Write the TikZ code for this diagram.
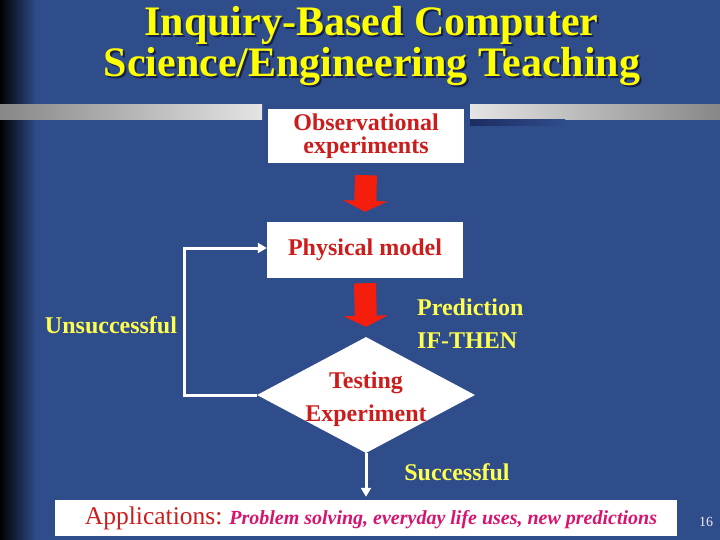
\documentclass[tikz,border=0pt]{standalone}
\usepackage{fontspec}
\setmainfont{Liberation Serif}
\usetikzlibrary{shapes.geometric,arrows.meta}
\definecolor{bg}{RGB}{47,76,139}
\definecolor{navy}{RGB}{20,32,80}
\definecolor{barD}{RGB}{135,135,135}
\definecolor{barL}{RGB}{228,228,228}
\definecolor{boxred}{RGB}{204,28,28}
\definecolor{arrred}{RGB}{245,30,12}
\definecolor{labyel}{RGB}{255,255,80}
\definecolor{ttlyel}{RGB}{255,255,0}
\definecolor{mag}{RGB}{214,20,110}
\tikzset{bx/.style={fill=white,minimum width=196pt,minimum height=54pt,inner sep=0pt,align=center,
  text=boxred,font=\fontsize{24}{23}\selectfont\bfseries}}
\tikzset{lab/.style={text=labyel,inner sep=0pt,font=\fontsize{24}{33}\selectfont\bfseries}}

\begin{document}
\begin{tikzpicture}[x=1pt,y=-1pt]
\tikzstyle{ttl}=[anchor=base,inner sep=0pt,font=\fontsize{42}{42}\selectfont\bfseries]
\tikzstyle{fat}=[draw=arrred,line width=22pt,-{Triangle[length=11pt,width=44pt]}]
\tikzstyle{wl}=[draw=white,line width=3pt,-{Triangle[length=9pt,width=10pt]}]
\tikzstyle{dia}=[diamond,fill=white,aspect=1.88,minimum width=218pt,minimum height=116pt,
  inner sep=-5pt,align=center,text=boxred,font=\fontsize{24}{33}\selectfont\bfseries]
\useasboundingbox (0,0) rectangle (720,540);
\fill[bg] (0,0) rectangle (720,540);
\shade[left color=black,right color=bg] (0,0) rectangle (36,540);
\shade[left color=barD,right color=barL] (0,105) rectangle (262,120);
\shade[left color=barL,right color=barD] (470,105) rectangle (720,120);
\shade[left color=navy!70!bg,right color=bg] (470,120) rectangle (565,126);
\node[ttl,text=navy] at (373.5,38) {Inquiry-Based Computer};
\node[ttl,text=ttlyel] (t1) at (371.5,36) {Inquiry-Based Computer};
\node[ttl,text=navy] at (374,79) {Science/Engineering Teaching};
\node[ttl,text=ttlyel] (t2) at (372,77) {Science/Engineering Teaching};
\node[bx] (obs) at (366,136) {Observational\\experiments};
\node[bx,minimum height=56pt] (phys) at (365,250) {Physical model};
\node[dia] (test) at (366,395) {\rule{0pt}{25pt}Testing\\Experiment};
\node[bx,minimum width=622pt,minimum height=36pt] (app) at (366,518)
  {\hspace*{10pt}{\fontsize{25.5}{26}\selectfont\mdseries\color{boxred}Applications:}\hspace{-1pt}
   {\fontsize{20}{20}\selectfont\bfseries\itshape\color{mag}Problem solving, everyday life uses, new predictions}};
\draw[fat] ([yshift=-12pt]obs.south) -- ([yshift=10pt]phys.north);
\draw[fat] ([yshift=-5pt]phys.south) -- ([yshift=10pt]test.north);
\draw[wl] (test.west) -- ++(-72,0) |- ([yshift=2pt]phys.west);
\draw[wl] (test.south) -- ([yshift=3pt]app.north);
\node[lab] (uns) at (111,325) {Unsuccessful};
\node[lab,anchor=west,align=left] (pred) at (417,323.5) {Prediction\\IF-THEN};
\node[lab] (succ) at (457,472) {Successful};
\node[text=gray!15,font=\fontsize{14}{14}\selectfont] (pg) at (706,522) {16};
\end{tikzpicture}
\end{document}
